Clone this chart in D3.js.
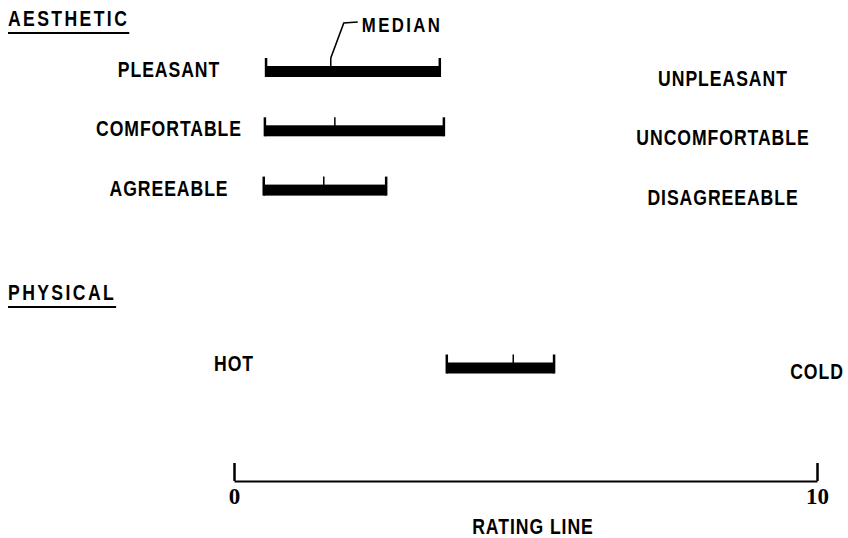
<!DOCTYPE html>
<html>
<head>
<meta charset="utf-8">
<script src="https://cdn.jsdelivr.net/npm/d3@7"></script>
<style>
  body { margin: 0; background: #fff; }
  svg { display: block; }
  text { fill: #000; font-family: 'Liberation Sans', Arial, sans-serif; font-weight: bold; }
  .num { font-family: 'Liberation Serif', 'DejaVu Serif', serif; }
</style>
</head>
<body>
<svg id="chart" width="848" height="538"></svg>
<script>
// rows of the figure (two blank rows keep the gap between sections)
const rows = ['pleasant', 'comfortable', 'agreeable', 'gap1', 'gap2', 'hot'];
const scaleRows = ['pleasant', 'comfortable', 'agreeable', 'hot'];
const groups = ['aesthetic', 'aesthetic', 'aesthetic', 'physical'];
const leftLabels = ['PLEASANT', 'COMFORTABLE', 'AGREEABLE', 'HOT'];
const rightLabels = ['UNPLEASANT', 'UNCOMFORTABLE', 'DISAGREEABLE', 'COLD'];
// ratings on the 0-10 line
const lowValues = [0.55, 0.53, 0.51, 3.65];
const medianValues = [1.66, 1.73, 1.54, 4.79];
const highValues = [3.53, 3.60, 2.61, 5.49];
const ratingTicks = [0, 10];
const sections = ['AESTHETIC', 'PHYSICAL'];

const svg = d3.select('#chart');

const x = d3.scaleLinear().domain([0, 10]).range([234, 817]);
const y = d3.scalePoint().domain(rows).range([77, 373.5]);

const data = scaleRows.map((r, i) => ({
  row: r, group: groups[i], left: leftLabels[i], right: rightLabels[i],
  lo: lowValues[i], med: medianValues[i], hi: highValues[i]
}));

// typewriter-ish condensed lettering: squeeze the glyphs horizontally
const squeeze = 0.8;
function label(parent, tx, ty, str, opts = {}) {
  return parent.append('text')
    .attr('transform', `translate(${tx},${ty}) scale(${squeeze},1)`)
    .attr('text-anchor', opts.anchor || 'start')
    .attr('font-size', opts.size || 22)
    .attr('letter-spacing', opts.spacing == null ? 1.2 : opts.spacing)
    .text(str);
}

// section headings, underlined
const headY = [26, 300];
sections.forEach((s, i) => {
  const t = label(svg, 8, headY[i], s, {size: 22, spacing: 3});
  const w = t.node().getComputedTextLength() * squeeze;
  svg.append('line')
    .attr('x1', 8).attr('x2', 8 + w)
    .attr('y1', headY[i] + 7).attr('y2', headY[i] + 7)
    .attr('stroke', '#000').attr('stroke-width', 2);
});

const barH = 11, tickH = 19;
const g = svg.append('g');

const row = g.selectAll('g.row').data(data).join('g')
  .attr('class', 'row')
  .attr('transform', d => `translate(0,${y(d.row)})`);

row.append('rect')
  .attr('x', d => x(d.lo))
  .attr('y', -barH)
  .attr('width', d => x(d.hi) - x(d.lo))
  .attr('height', barH)
  .attr('fill', '#000');

row.selectAll('line.end').data(d => [d.lo, d.hi]).join('line')
  .attr('class', 'end')
  .attr('x1', v => x(v)).attr('x2', v => x(v))
  .attr('y1', -tickH).attr('y2', 0)
  .attr('stroke', '#000').attr('stroke-width', 2.5);

row.append('line')
  .attr('x1', d => x(d.med)).attr('x2', d => x(d.med))
  .attr('y1', -tickH).attr('y2', -2)
  .attr('stroke', '#000').attr('stroke-width', 1.5);

// left and right anchors of each scale
row.each(function(d) {
  const r = d3.select(this);
  const aes = d.group === 'aesthetic';
  label(r, aes ? 169 : x(0), aes ? 0 : -3, d.left, {anchor: 'middle'});
  label(r, aes ? 723 : x(10), aes ? 9 : 5, d.right, {anchor: 'middle'});
});

// MEDIAN call-out on the first scale
const first = data[0];
const mx = x(first.med), my = y(first.row) - tickH;
svg.append('path')
  .attr('d', `M${mx},${my} L${mx + 13},${my - 35} L${mx + 27},${my - 36}`)
  .attr('fill', 'none').attr('stroke', '#000').attr('stroke-width', 1.6);
label(svg, mx + 31, my - 26, 'MEDIAN', {size: 21, spacing: 3});

// rating line
const axis = d3.axisBottom(x)
  .tickValues(ratingTicks)
  .tickFormat(d3.format('d'))
  .tickSizeInner(-18)
  .tickSizeOuter(0)
  .tickPadding(7);

const ax = svg.append('g')
  .attr('transform', 'translate(0,481)')
  .call(axis);
ax.select('.domain').attr('stroke', '#000').attr('stroke-width', 2);
ax.selectAll('.tick line').attr('stroke', '#000').attr('stroke-width', 2.5);
ax.selectAll('.tick text')
  .attr('class', 'num')
  .attr('fill', '#000')
  .attr('font-size', 23)
  .attr('font-weight', 'bold');

label(svg, 533, 534, 'RATING LINE', {anchor: 'middle', size: 22, spacing: 1.2});
</script>
</body>
</html>
